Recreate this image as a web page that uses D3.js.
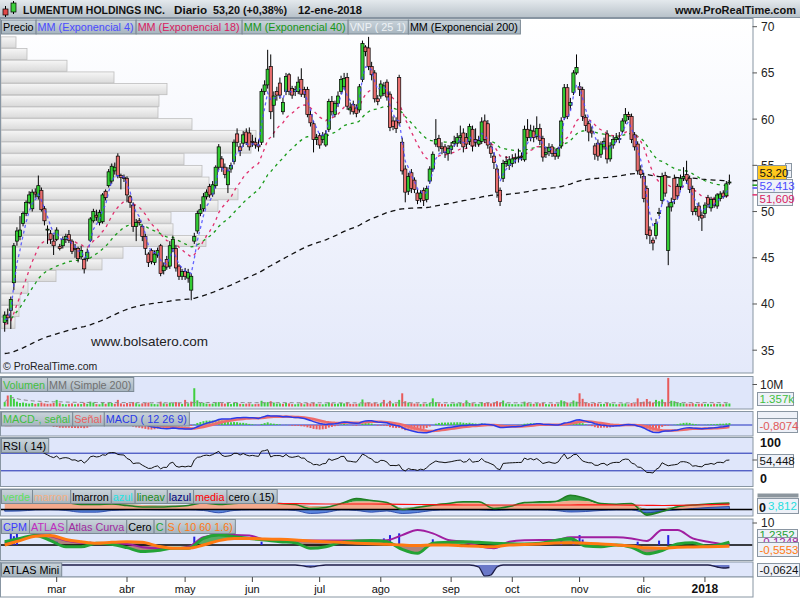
<!DOCTYPE html>
<html>
<head>
<meta charset="utf-8">
<script src="https://cdn.jsdelivr.net/npm/d3@7"></script>
<style>
body { margin: 0; background: #fff; }
svg { display: block; font-family: "Liberation Sans", Arial, sans-serif; }
</style>
</head>
<body>
<script>
// ---- data ----
const open = [
38.0,38.8,39.3,42.3,46.8,47.3,48.7,49.8,51.0,50.3,
52.1,51.6,52.3,50.3,48.0,47.6,46.8,47.0,46.2,46.3,
47.0,47.5,46.8,46.0,46.0,45.1,44.8,44.9,46.9,49.0,
49.6,48.8,48.9,52.2,52.8,53.3,54.4,56.0,53.9,53.7,
53.6,51.6,50.7,48.4,49.0,48.4,47.3,45.4,45.8,44.5,
45.3,46.3,43.6,44.8,44.1,46.0,46.0,44.1,43.0,43.5,
42.8,41.5,46.8,47.9,49.8,50.3,51.6,52.7,51.9,52.8,
54.8,55.7,54.8,52.9,54.6,55.4,58.4,57.0,57.4,58.6,
58.5,57.6,57.5,57.2,57.5,63.0,63.7,65.7,61.5,63.0,
63.9,60.8,63.0,64.8,63.3,63.0,63.0,64.3,63.2,63.2,
60.5,59.5,57.8,58.2,57.8,57.2,58.9,61.9,60.5,61.7,
63.0,63.5,64.5,61.0,61.6,61.2,61.0,64.3,67.8,67.7,
65.7,65.0,62.2,62.5,62.8,64.0,62.7,59.8,59.8,64.5,
57.5,54.6,52.2,54.2,53.4,52.0,51.4,52.3,51.3,53.3,
54.6,57.3,57.9,57.0,57.0,56.3,56.7,57.4,57.4,58.0,
58.5,58.0,57.6,58.9,57.8,57.3,57.6,59.8,59.5,57.0,
56.0,54.6,52.3,53.6,55.2,55.0,55.2,55.7,55.8,56.0,
55.6,58.9,58.0,58.7,58.1,59.0,57.9,56.2,56.5,57.0,
56.3,56.0,57.1,60.2,63.4,61.5,62.9,65.0,63.5,63.2,
60.2,59.5,58.7,57.1,57.4,56.2,57.0,58.4,55.7,57.2,
57.8,57.8,58.7,59.8,60.5,60.3,58.3,57.3,54.5,53.8,
52.5,48.0,46.9,47.4,49.8,51.2,53.9,45.8,50.5,53.6,
52.7,52.7,53.6,54.0,53.6,52.5,50.0,50.6,49.6,49.8,
51.5,50.4,51.3,50.6,51.4,52.0,51.7,53.1
];
const high = [
39.2,39.5,40.8,46.6,48.3,49.5,50.0,51.2,52.2,52.4,
52.5,53.9,52.6,50.6,48.5,48.0,47.5,48.3,46.5,47.3,
47.6,48.0,47.0,46.5,46.2,46.3,45.0,46.0,49.4,50.3,
50.2,50.2,52.0,52.4,54.6,55.2,55.3,56.3,54.1,54.0,
53.8,51.8,51.0,49.2,49.3,48.6,47.6,45.6,46.0,45.8,
46.1,46.5,44.5,45.2,46.8,47.4,46.4,44.3,43.8,43.9,
43.8,43.3,47.7,50.1,50.8,52.0,52.4,53.0,53.3,55.0,
57.3,56.0,55.2,54.8,55.3,57.8,59.0,57.4,58.7,59.0,
59.1,58.3,58.0,57.8,63.3,64.2,67.5,67.0,63.0,63.5,
64.5,62.3,65.0,65.0,63.6,63.6,64.6,65.5,63.5,63.5,
61.0,59.8,58.4,58.5,58.6,58.8,62.2,62.5,62.0,63.0,
64.7,65.0,65.0,61.8,62.0,61.6,63.8,68.5,68.0,68.9,
66.2,65.3,62.6,64.2,64.0,64.3,63.0,60.3,60.2,64.8,
58.0,55.0,54.2,54.6,53.7,52.4,52.3,52.6,52.8,54.9,
56.5,60.0,58.3,57.5,57.3,57.2,57.5,58.2,58.5,59.3,
59.0,58.5,59.5,59.3,59.0,58.2,60.2,60.5,59.9,57.5,
56.4,55.0,52.6,55.6,56.0,56.0,56.2,56.3,56.8,56.4,
59.3,60.0,59.4,59.3,60.3,59.5,58.2,57.0,57.4,57.3,
56.8,57.0,60.2,63.8,63.8,62.3,65.3,67.0,64.0,63.5,
60.5,59.8,59.2,57.4,57.8,57.6,58.0,58.8,57.5,58.2,
58.5,58.6,60.1,61.2,60.8,60.6,58.6,57.6,55.0,54.2,
52.8,48.4,47.2,49.2,50.4,54.2,54.3,51.0,51.5,54.0,
53.0,54.0,54.8,55.5,53.9,52.8,50.6,51.0,50.0,51.0,
51.8,51.6,51.6,52.0,52.2,52.3,53.3,54.0
];
const low = [
37.0,37.8,37.3,41.5,46.3,46.9,48.4,49.5,50.8,50.0,
51.5,51.3,50.0,48.5,46.5,46.5,45.3,46.8,45.8,46.0,
46.6,46.6,45.4,45.0,44.5,44.8,43.3,44.6,46.7,48.8,
49.0,48.5,48.7,51.2,52.6,53.0,54.0,53.6,52.4,53.2,
51.0,50.4,47.8,46.8,48.5,46.8,45.3,44.0,44.3,44.2,
45.0,43.0,43.2,43.7,43.8,45.6,43.5,42.6,42.6,42.6,
42.3,40.4,46.5,47.6,49.5,50.0,51.3,51.5,51.6,52.5,
54.5,54.3,53.6,52.0,54.2,55.1,57.0,56.0,57.0,57.2,
56.6,57.0,56.8,56.5,57.2,62.6,63.3,60.0,58.0,62.0,
62.2,60.5,62.6,62.6,62.2,62.5,62.7,62.4,62.3,60.2,
59.2,56.4,57.2,56.8,57.4,57.0,58.6,60.4,60.2,61.3,
62.7,63.2,61.0,60.5,60.5,60.2,60.7,64.0,66.8,65.3,
64.2,61.8,61.5,62.2,62.5,62.0,58.7,58.8,58.5,59.3,
54.0,51.0,51.8,52.0,52.0,50.8,51.0,50.6,51.0,53.0,
54.3,57.0,56.5,56.2,55.8,55.5,56.2,57.0,57.0,57.3,
56.4,56.8,57.2,56.5,57.0,57.0,57.3,57.4,56.8,55.8,
54.6,51.5,50.6,53.2,54.8,54.5,54.8,55.2,55.3,55.5,
55.4,57.6,57.6,57.5,57.8,57.2,55.4,55.8,56.0,55.9,
55.6,55.7,56.8,59.9,60.0,61.0,62.6,64.8,62.5,59.8,
58.7,57.6,58.0,55.6,55.5,55.8,56.7,55.2,55.4,56.8,
57.5,57.4,58.5,59.5,59.9,57.4,56.6,54.0,53.6,51.0,
47.0,46.5,45.8,47.0,49.5,50.8,51.6,44.2,50.0,50.8,
51.3,52.3,53.3,53.0,52.0,49.6,49.6,49.0,47.9,49.3,
50.4,50.0,50.4,50.3,51.1,51.4,51.5,52.9
];
const close = [
38.8,38.5,40.5,46.3,47.9,48.0,49.8,51.0,51.8,52.1,
51.9,52.8,50.2,49.0,48.1,47.0,46.3,48.0,46.0,47.0,
47.3,46.9,45.7,45.9,44.9,45.8,43.8,45.6,49.2,50.0,
49.4,49.9,51.8,51.5,54.3,54.9,54.8,53.9,53.7,53.6,
51.8,51.0,48.4,48.8,48.8,47.3,46.0,44.5,44.6,45.4,
45.8,43.3,44.1,44.0,46.3,47.0,43.9,43.0,43.5,43.0,
43.4,43.0,47.3,49.8,50.2,51.6,52.1,51.8,52.9,54.8,
57.0,54.8,54.0,54.4,55.0,57.5,57.5,56.6,58.3,57.5,
57.0,57.5,57.2,57.0,63.0,63.7,65.4,60.8,62.5,62.6,
62.6,61.8,64.6,63.0,62.6,63.2,64.0,62.7,62.7,60.5,
59.6,57.8,58.0,57.2,58.2,58.4,61.9,60.8,61.7,62.5,
64.3,64.4,61.4,61.2,60.8,60.6,63.5,68.2,67.3,65.7,
64.8,62.2,61.9,63.8,63.6,62.4,59.1,59.2,59.0,59.6,
54.4,52.1,53.8,52.5,52.4,51.2,52.0,51.2,52.5,54.6,
56.2,57.8,57.0,56.8,56.4,56.8,57.1,57.6,58.0,58.2,
57.0,57.3,59.2,57.1,57.5,57.7,59.7,57.8,57.2,56.3,
55.3,52.1,51.1,55.2,55.4,55.6,55.7,55.8,55.9,55.9,
58.9,58.0,58.8,58.0,59.0,57.7,55.9,56.4,56.9,56.3,
56.0,56.8,59.8,63.4,60.3,61.8,65.0,65.6,63.2,60.3,
59.3,58.6,58.5,56.2,56.0,57.3,57.6,55.7,57.1,57.8,
58.0,57.9,59.8,60.5,60.3,57.8,57.0,54.4,54.0,51.4,
47.5,47.4,46.6,48.7,49.9,53.8,52.0,50.5,51.0,51.3,
51.7,53.6,53.8,53.4,52.4,50.0,50.3,49.5,49.3,50.7,
50.8,51.3,50.7,51.8,51.9,51.6,53.0,53.2
];
// volume in millions
const volume = [
2.0,5.0,5.2,3.5,2.2,1.6,1.8,1.5,1.3,1.6,
1.2,1.5,1.8,1.4,1.2,1.3,1.6,3.0,1.5,1.1,
1.0,1.2,1.4,1.0,1.3,1.1,1.7,1.2,2.2,1.8,
1.1,1.0,1.9,1.2,1.8,1.6,1.2,3.0,1.4,1.0,
1.6,1.3,2.0,1.5,1.0,1.4,1.6,1.8,1.3,1.1,
1.0,2.2,1.4,1.2,1.8,1.5,2.0,1.6,1.2,3.0,
1.4,2.2,8.3,2.8,1.6,1.7,1.3,1.2,1.3,1.8,
2.0,1.5,1.3,1.6,1.1,1.8,1.6,1.2,1.1,1.3,
1.4,1.0,1.1,1.2,2.6,1.8,2.0,2.4,1.8,1.3,
1.4,1.2,1.6,1.4,1.1,1.0,1.3,1.5,1.0,1.6,
1.3,1.8,1.2,1.1,1.0,1.2,1.9,1.4,1.2,1.3,
1.6,1.4,1.9,1.2,1.1,1.2,1.4,3.2,1.8,1.9,
1.4,1.8,1.2,1.5,3.0,1.4,2.6,1.4,1.3,3.0,
6.0,2.4,1.8,1.5,1.3,1.4,1.1,1.3,1.2,1.7,
3.7,2.0,1.4,1.2,1.1,1.0,1.2,1.3,1.4,1.6,
1.5,2.8,1.6,1.5,1.2,1.1,2.0,1.6,1.8,1.4,
1.6,2.4,1.8,2.7,1.4,1.2,1.1,1.0,1.1,1.0,
2.2,1.6,1.3,1.2,1.5,1.4,1.7,1.1,1.0,1.2,
1.1,1.3,2.8,2.4,1.8,1.4,2.7,2.2,6.0,3.5,
1.8,1.5,1.2,1.6,1.3,1.1,1.2,1.6,1.4,1.2,
1.0,1.1,1.3,1.4,1.0,1.6,1.4,3.7,2.0,2.2,
3.4,2.3,1.8,3.0,2.4,3.2,2.0,13.0,2.6,2.4,
1.8,1.6,1.4,1.3,1.2,1.5,1.1,1.2,1.3,1.1,
1.2,1.0,1.3,1.1,1.2,1.0,1.4,1.357
];
// moving average values at the left edge of the picture
const emaSeed4 = 38.0, emaSeed18 = 37.7, emaSeed40 = 38.2, emaSeed200 = 34.6;

// volume-at-price (VNP 25) widths, top band first
const vnpWidths = [15,26,66,113,166,158,157,191,255,250,183,201,208,237,217,170,172,205,122,101,55,27,19,18,14];
const vnpTop = 68.9, vnpBottom = 37.3;

// sparse readings of the lower custom indicators
const gridIdx = [0,5,10,15,20,25,30,35,40,45,50,55,60,65,70,75,80,85,90,95,100,105,110,115,120,125,130,135,140,145,150,155,160,165,170,175,180,185,190,195,200,205,210,215,220,225,230,237];
const verde = [6.7,6.7,7,7.5,7,5,5,5.5,4,2.5,2.5,3,4,6.5,5,6,6.5,6.5,6,5,1,2,6,11,9,7,0,2,4.3,6,7.7,7.7,1,3,7,7.7,8,14.3,11,6,5.3,6,-5.7,-2,2.7,4.5,5.5,6.5];
const marron = [7.3,7.3,7.5,8,8,7,6.5,6,5,4.5,4,4,4.5,6,6.5,6.2,6,6,6,5,3.5,3.3,5,8,8,7.3,1.5,3,5,6.5,6.7,6.7,4,4,6,6,7,8.7,8.5,5.5,5.3,5,0.5,1,3,4,4.5,5];
const media = [7,7,7,7,7,6.8,6.8,6.6,6.5,6.3,6.2,6,6,6,6,6,6,6,6,5.8,5.6,5.5,5.5,5.5,5.5,5.4,5.2,5,4.8,4.6,4.5,4.5,4.5,4.5,4.5,4.5,4.5,4.5,4.6,4.6,4.5,4.3,4.2,4.0,4.2,4.5,4.8,5.3,6];
const azul = [-1.7,-1.5,-0.5,-0.3,-1,-2.7,-2.7,-1,-0.5,-0.3,-0.5,-0.5,-0.5,-1,-3.3,-1,-0.5,-0.5,-0.5,-1,-4,-3,-0.5,-1,-2.7,-1.5,-4,-3,-1,-0.5,-0.5,-0.5,-1,-0.5,-0.5,-0.5,-1,-2.5,-2,-1,-0.5,-0.5,-3.3,-1.5,-0.5,1,2,3];
const cLine = [1.5,3,4.3,2,-0.8,-0.8,0.8,0.3,-1.2,-3,-2.5,-1.5,-1.5,3,4.5,3.8,3,2.3,1.5,1,-1.5,-0.8,1.2,1.8,2,1.5,-2,-3.8,0.8,1.2,1.5,1.2,0.8,0.6,0.5,0.8,2,3,-0.5,-0.8,0,-1,-4,-2.5,0.5,1,-0.6,1.24];
const sLine = [0,2,4,4.3,2.5,1.5,0.8,1.2,1.5,1.2,-0.5,-1.5,-1.5,0,2,3,3,2.7,2.6,2.3,1.8,1.5,1.2,0.8,0.6,0.3,0,-0.2,0,0,-0.3,-0.6,-0.8,0,0.2,0.5,0.9,1,0.8,0.5,0,-0.5,-1.3,-1.5,-1,-0.9,-0.8,-0.56];
const atlas = [1,2.5,4.5,4,2,1,0.8,0.8,0.5,-1,-1.5,-1.5,-0.8,3.5,4.5,4.5,4.3,2.5,2,2,2,2,2,2,2,2.2,4.5,6.8,5.3,2.3,1.5,-0.5,-1.5,1.5,2.2,2.3,2.3,3.5,3.5,3.5,3.5,3,1.8,6.8,6.8,3,1.5,-0.12];
const cpmIdx = [2,3,4,17,28,37,62,84,124,126,129,140,182,186,188,189,207,214,217];
const cpmVal = [5.3,4,5.3,1.5,1.5,1.5,3.8,1.5,3,4.5,5.3,2.6,2.3,3,4.5,2.5,1.5,2,4.5];
const miniIdx = [0,95,98,100,102,105,152,155,157,159,161,163,230,233,235,237];
const miniVal = [0,0,-0.03,-0.05,-0.03,0,0,-0.05,-0.28,-0.25,-0.05,0,0,-0.05,-0.075,-0.0624];

const monthIdx = [17,40,59,81,103,123,146,166,188,209,229];
const monthLbl = ["mar","abr","may","jun","jul","ago","sep","oct","nov","dic","2018"];
const priceTicks = [35,40,45,50,55,60,65,70];

// ---- indicators computed from the closes ----
function ema(arr, n, seed) {
  const k = 2 / (n + 1);
  let e = seed;
  return arr.map(v => (e = v * k + e * (1 - k)));
}
const ema4 = ema(close, 4, emaSeed4);
const ema18 = ema(close, 18, emaSeed18);
const ema40 = ema(close, 40, emaSeed40);
const ema200 = ema(close, 200, emaSeed200);
const e12 = ema(close, 12, close[0]), e26 = ema(close, 26, close[0]);
const macd = e12.map((v, i) => v - e26[i]);
const signal = ema(macd, 9, 0);
const hist = macd.map((v, i) => v - signal[i]);
const changes = close.slice(1).map((v, i) => v - close[i]);
let avgG = d3.mean(changes.slice(0, 14), d => Math.max(d, 0));
let avgL = d3.mean(changes.slice(0, 14), d => Math.max(-d, 0));
const rsi = changes.map(d => {
  avgG = (avgG * 13 + Math.max(d, 0)) / 14;
  avgL = (avgL * 13 + Math.max(-d, 0)) / 14;
  return 100 - 100 / (1 + avgG / avgL);
});
const volAvg = volume.map((v, i) => d3.mean(volume.slice(Math.max(0, i - 199), i + 1)));

// ---- layout ----
const W = 800, H = 600, R = 752.5;
const svg = d3.select("body").append("svg").attr("width", W).attr("height", H);
const defs = svg.append("defs");
function grad(id, c1, c2) {
  const g = defs.append("linearGradient").attr("id", id)
    .attr("x1", 0).attr("y1", 0).attr("x2", 0).attr("y2", 1);
  g.append("stop").attr("offset", "0%").attr("stop-color", c1);
  g.append("stop").attr("offset", "100%").attr("stop-color", c2);
}
grad("gHead", "#e4e9ed", "#b6c0c8");
grad("gMain", "#ffffff", "#e4e9fa");
grad("gLeg", "#cad4db", "#a6b4be");
grad("gVnp", "#f6f6f6", "#dadada");

const panels = {
  main: [18.5, 373], vol: [376.5, 409], macd: [411.5, 436], rsi: [437.5, 486.5],
  verde: [489, 516], cpm: [519, 560.5], mini: [562, 577]
};
const G = {};
Object.entries(panels).forEach(([k, [t, b]]) => {
  defs.append("clipPath").attr("id", "c_" + k).append("rect")
    .attr("x", 1).attr("y", t).attr("width", R - 1).attr("height", b - t);
  svg.append("rect").attr("x", 0.5).attr("y", t).attr("width", R).attr("height", b - t)
    .attr("fill", k === "main" ? "url(#gMain)" : "#dfe6fa").attr("stroke", "#8896a3");
  G[k] = svg.append("g").attr("clip-path", "url(#c_" + k + ")");
});

const x = d3.scaleLinear().domain([0, 237]).range([4.7, 729.4]);
const y = d3.scaleLinear().domain([35, 70]).range([350.2, 26.7]);

// header
svg.append("rect").attr("x", 0).attr("y", 0).attr("width", W).attr("height", 18).attr("fill", "url(#gHead)");
svg.append("line").attr("x1", 0).attr("x2", W).attr("y1", 17.5).attr("y2", 17.5).attr("stroke", "#8793a0");
svg.append("line").attr("x1", 5.5).attr("x2", 5.5).attr("y1", 6).attr("y2", 17).attr("stroke", "#000");
svg.append("rect").attr("x", 3).attr("y", 9).attr("width", 5).attr("height", 6).attr("fill", "#e04848").attr("stroke", "#000").attr("stroke-width", 0.7);
svg.append("line").attr("x1", 13.5).attr("x2", 13.5).attr("y1", 1).attr("y2", 14).attr("stroke", "#000");
svg.append("rect").attr("x", 11).attr("y", 3).attr("width", 5).attr("height", 9).attr("fill", "#3ccf3c").attr("stroke", "#000").attr("stroke-width", 0.7);
const head = svg.append("g").attr("font-size", 11.5).attr("font-weight", "bold").attr("fill", "#111");
[["LUMENTUM HOLDINGS INC.", 23, 142], ["Diario", 174, 33], ["53,20 (+0,38%)", 213, 74], ["12-ene-2018", 298, 64]]
  .forEach(([t, xx, len]) => head.append("text").attr("x", xx).attr("y", 14)
    .attr("textLength", len).attr("lengthAdjust", "spacingAndGlyphs").text(t));
head.append("text").attr("x", 796).attr("y", 14).attr("text-anchor", "end").attr("font-size", 11).text("www.ProRealTime.com");

// ---- main price panel ----
const gM = G.main;
const vx = d3.scaleLinear().domain([0, 255]).range([1, 256]);
const vStep = (vnpTop - vnpBottom) / vnpWidths.length;
gM.selectAll(".vnp").data(vnpWidths).join("rect").attr("class", "vnp")
  .attr("x", 1)
  .attr("y", (d, i) => y(vnpTop - i * vStep))
  .attr("width", d => vx(d) - 1)
  .attr("height", (d, i) => y(vnpTop - (i + 1) * vStep) - y(vnpTop - i * vStep) - 0.6)
  .attr("fill", "url(#gVnp)").attr("stroke", "#bdbdbd").attr("stroke-width", 0.8);

const pl = d3.line().x((d, i) => x(i)).y(d => y(d));
[[ema200, "#111", "5,4"], [ema40, "#199a19", "3,4"], [ema18, "#e0306e", "3,4"]].forEach(([s, c, da]) =>
  gM.append("path").attr("d", pl(s)).attr("fill", "none").attr("stroke", c)
    .attr("stroke-width", 1.3).attr("stroke-dasharray", da));

const cg = gM.selectAll(".cdl").data(close).join("g").attr("class", "cdl");
cg.append("line")
  .attr("x1", (d, i) => x(i)).attr("x2", (d, i) => x(i))
  .attr("y1", (d, i) => y(high[i])).attr("y2", (d, i) => y(low[i]))
  .attr("stroke", "#000").attr("stroke-width", 1);
cg.append("rect")
  .attr("x", (d, i) => x(i) - 1.6).attr("width", 3.2)
  .attr("y", (d, i) => y(Math.max(open[i], d)))
  .attr("height", (d, i) => Math.max(1, Math.abs(y(open[i]) - y(d))))
  .attr("fill", (d, i) => d >= open[i] ? "#33cc33" : "#e86e6e")
  .attr("stroke", "#000").attr("stroke-width", 0.7);
gM.append("path").attr("d", pl(ema4)).attr("fill", "none").attr("stroke", "#4a4aff")
  .attr("stroke-width", 1.3).attr("stroke-dasharray", "3,3").attr("opacity", 0.85);

gM.append("text").attr("x", 91).attr("y", 346).attr("font-size", 13.5).attr("fill", "#222").text("www.bolsatero.com");
gM.append("text").attr("x", 3).attr("y", 370).attr("font-size", 10.5).attr("fill", "#222").text("© ProRealTime.com");

function legend(x0, y0, items) {
  let xx = x0;
  items.forEach(([t, c]) => {
    const r = svg.append("rect").attr("y", y0).attr("height", 14)
      .attr("fill", "url(#gLeg)").attr("stroke", "#7c8a95");
    const tx = svg.append("text").attr("x", xx + 2).attr("y", y0 + 11)
      .attr("font-size", 10.8).attr("fill", c).text(t);
    const w = tx.node().getComputedTextLength() + 4;
    r.attr("x", xx + 0.5).attr("width", w);
    xx += w;
  });
}
legend(1, 20, [["Precio", "#000"], ["MM (Exponencial 4)", "#4a4aff"], ["MM (Exponencial 18)", "#d81b60"],
  ["MM (Exponencial 40)", "#169616"], ["VNP ( 25 1)", "#eef2f6"], ["MM (Exponencial 200)", "#000"]]);

// ---- volume ----
const yv = d3.scaleLinear().domain([0, 10]).range([406.5, 384.5]);
G.vol.selectAll(".vb").data(volume).join("rect").attr("class", "vb")
  .attr("x", (d, i) => x(i) - 1).attr("width", 2)
  .attr("y", d => yv(d)).attr("height", d => yv(0) - yv(d))
  .attr("fill", (d, i) => (i === 0 ? close[i] >= open[i] : close[i] >= close[i - 1]) ? "#3fcf3f" : "#e85a5a");
G.vol.append("path").attr("d", d3.line().x((d, i) => x(i)).y(d => yv(d))(volAvg))
  .attr("fill", "none").attr("stroke", "#8a8a8a").attr("stroke-width", 1).attr("stroke-dasharray", "4,3");
legend(1, 377.5, [["Volumen", "#3fbf3f"], ["MM (Simple 200)", "#707070"]]);

// ---- MACD ----
const ym = d3.scaleLinear().domain([0, 1]).range([425, 422.2]);
G.macd.append("line").attr("x1", 0).attr("x2", R).attr("y1", ym(0)).attr("y2", ym(0)).attr("stroke", "#2030c0");
G.macd.selectAll(".hb").data(hist).join("rect").attr("class", "hb")
  .attr("x", (d, i) => x(i) - 1).attr("width", 2)
  .attr("y", d => Math.min(ym(0), ym(d * 1.5))).attr("height", d => Math.abs(ym(d * 1.5) - ym(0)))
  .attr("fill", d => d >= 0 ? "#3fcf3f" : "#ec5a5a");
G.macd.append("path")
  .attr("d", d3.area().x((d, i) => x(i)).y0(d => ym(d)).y1((d, i) => ym(signal[i]))(macd))
  .attr("fill", "#f08a80").attr("opacity", 0.7);
G.macd.append("path").attr("d", d3.line().x((d, i) => x(i)).y(d => ym(d))(signal))
  .attr("fill", "none").attr("stroke", "#ee6c6c").attr("stroke-width", 2.5);
G.macd.append("path").attr("d", d3.line().x((d, i) => x(i)).y(d => ym(d))(macd))
  .attr("fill", "none").attr("stroke", "#2a3ae8").attr("stroke-width", 1.5);
legend(1, 412, [["MACD-, señal", "#3fbf3f"], ["Señal", "#e86060"], ["MACD ( 12 26 9)", "#2a3ae8"]]);

// ---- RSI ----
const yr = d3.scaleLinear().domain([0, 100]).range([484, 440]);
[70, 30].forEach(v => G.rsi.append("line").attr("x1", 0).attr("x2", R)
  .attr("y1", yr(v)).attr("y2", yr(v)).attr("stroke", "#1a2ab0"));
G.rsi.append("path").attr("d", d3.line().x((d, i) => x(i + 1)).y(d => yr(d))(rsi))
  .attr("fill", "none").attr("stroke", "#111").attr("stroke-width", 1);
legend(1, 438.5, [["RSI ( 14)", "#000"]]);

// ---- verde / marron ----
const yV = d3.scaleLinear().domain([0, 10]).range([509.5, 499.5]);
const gx = (d, i) => x(gridIdx[i]);
const cv = d3.curveMonotoneX;
G.verde.append("path").attr("d", d3.area().curve(cv).x(gx).y0((d, i) => yV(marron[i])).y1(d => yV(d))(verde))
  .attr("fill", "#2f9a3c");
G.verde.append("path").attr("d", d3.area().curve(cv).x(gx).y0(yV(0)).y1(d => yV(Math.max(d, 0)))(marron))
  .attr("fill", "#f3a98c");
G.verde.append("path").attr("d", d3.area().curve(cv).x(gx).y0(yV(0)).y1(d => yV(d))(azul))
  .attr("fill", "#5a86e0").attr("stroke", "#1a3aa0").attr("stroke-width", 0.8);
G.verde.append("line").attr("x1", 0).attr("x2", R).attr("y1", yV(0)).attr("y2", yV(0)).attr("stroke", "#000").attr("stroke-width", 1.5);
G.verde.append("path").attr("d", d3.line().curve(cv).x(gx).y(d => yV(d))(verde))
  .attr("fill", "none").attr("stroke", "#1f7f24").attr("stroke-width", 1.5);
G.verde.append("path").attr("d", d3.line().curve(cv).x(gx).y(d => yV(d))(media))
  .attr("fill", "none").attr("stroke", "#ff1010").attr("stroke-width", 1.2);
legend(1, 489.5, [["verde", "#5fe05f"], ["marron", "#f5b083"], ["lmarron", "#000"], ["azul", "#22e5e5"],
  ["lineav", "#1a8a1a"], ["lazul", "#00007a"], ["media", "#ff0000"], ["cero ( 15)", "#000"]]);

// ---- CPM / ATLAS ----
const yC = d3.scaleLinear().domain([0, 10]).range([545, 523]);
G.cpm.append("path").attr("d", d3.area().curve(cv).x(gx).y0((d, i) => yC(sLine[i])).y1((d, i) => yC(Math.max(d, sLine[i])))(cLine))
  .attr("fill", "#3fa048").attr("opacity", 0.85);
G.cpm.append("path").attr("d", d3.area().curve(cv).x(gx).y0((d, i) => yC(sLine[i])).y1((d, i) => yC(Math.min(d, sLine[i])))(cLine))
  .attr("fill", "#a06a5e").attr("opacity", 0.8);
G.cpm.append("line").attr("x1", 0).attr("x2", R).attr("y1", yC(0)).attr("y2", yC(0)).attr("stroke", "#000").attr("stroke-width", 1.6);
G.cpm.selectAll(".cb").data(cpmVal).join("rect").attr("class", "cb")
  .attr("x", (d, i) => x(cpmIdx[i]) - 1).attr("width", 2)
  .attr("y", d => yC(d)).attr("height", d => yC(0) - yC(d)).attr("fill", "#2222e0");
G.cpm.append("path").attr("d", d3.line().curve(cv).x(gx).y(d => yC(d))(atlas))
  .attr("fill", "none").attr("stroke", "#a01ea0").attr("stroke-width", 2);
G.cpm.append("path").attr("d", d3.line().curve(cv).x(gx).y(d => yC(d))(cLine))
  .attr("fill", "none").attr("stroke", "#23a335").attr("stroke-width", 3);
G.cpm.append("path").attr("d", d3.line().curve(cv).x(gx).y(d => yC(d))(sLine))
  .attr("fill", "none").attr("stroke", "#ff7a12").attr("stroke-width", 3);
legend(1, 519.5, [["CPM", "#3a3aff"], ["ATLAS", "#c02cc0"], ["Atlas Curva", "#a02aa0"], ["Cero", "#000"],
  ["C", "#23a335"], ["S ( 10 60 1.6)", "#ff7a12"]]);

// ---- ATLAS Mini ----
const yMi = d3.scaleLinear().domain([-0.3, 0]).range([577, 565]);
const mx = (d, i) => x(miniIdx[i]);
G.mini.append("path").attr("d", d3.area().curve(cv).x(mx).y0(yMi(0)).y1(d => yMi(d))(miniVal)).attr("fill", "#6a78c8");
G.mini.append("path").attr("d", d3.line().curve(cv).x(mx).y(d => yMi(d))(miniVal))
  .attr("fill", "none").attr("stroke", "#1e1e48").attr("stroke-width", 1.3);
svg.append("line").attr("x1", 1).attr("x2", x(0)).attr("y1", yMi(0)).attr("y2", yMi(0)).attr("stroke", "#1e1e48");
legend(1, 563, [["ATLAS Mini", "#000"]]);

// ---- time axis ----
svg.append("rect").attr("x", 0.5).attr("y", 577).attr("width", R).attr("height", 20).attr("fill", "#fff").attr("stroke", "#8896a3");
monthIdx.forEach((m, k) => {
  svg.append("line").attr("x1", x(m)).attr("x2", x(m)).attr("y1", 577).attr("y2", 582).attr("stroke", "#444");
  svg.append("text").attr("x", x(m)).attr("y", 593).attr("text-anchor", "middle")
    .attr("font-size", k === 10 ? 12 : 11).attr("font-weight", k === 10 ? "bold" : "normal")
    .attr("fill", "#111").text(monthLbl[k]);
});

// ---- right axis ----
const ax = svg.append("g").attr("fill", "#222");
priceTicks.forEach(t => {
  ax.append("line").attr("x1", R).attr("x2", 757).attr("y1", y(t)).attr("y2", y(t)).attr("stroke", "#555");
  ax.append("text").attr("x", 761).attr("y", y(t) + 4.5).attr("font-size", 12).text(t);
});
function tag(x0, y0, w, h, t, c, fill, bold) {
  svg.append("rect").attr("x", x0 + 0.5).attr("y", y0 + 0.5).attr("width", w).attr("height", h)
    .attr("fill", fill).attr("stroke", "#8a96a2");
  svg.append("text").attr("x", x0 + 2.5).attr("y", y0 + h - 2.5).attr("font-size", 11.5)
    .attr("font-weight", bold ? "bold" : "normal").attr("fill", c).text(t);
}
[[ema200[237], "#111"], [ema40[237], "#199a19"], [ema4[237], "#4a4aff"], [ema18[237], "#e0306e"]].forEach(([v, c]) =>
  svg.append("line").attr("x1", R).attr("x2", 757).attr("y1", y(v)).attr("y2", y(v)).attr("stroke", c).attr("stroke-width", 1.5));
svg.append("rect").attr("x", 785.5).attr("y", 163.5).attr("width", 6).attr("height", 7).attr("fill", "#eef1f8").attr("stroke", "#8a96a2");
svg.append("rect").attr("x", 785.5).attr("y", 170.5).attr("width", 6).attr("height", 7).attr("fill", "#eef1f8").attr("stroke", "#8a96a2");
tag(757, 165, 29, 14, "53,20", "#111", "#ffc81e");
tag(757, 179, 35, 13, "52,413", "#4a4aff", "#eef1f8");
tag(757, 192, 35, 13, "51,609", "#d81b60", "#eef1f8");

svg.append("line").attr("x1", R).attr("x2", 757).attr("y1", yv(10)).attr("y2", yv(10)).attr("stroke", "#555");
svg.append("text").attr("x", 760).attr("y", 388.5).attr("font-size", 12).attr("fill", "#222").text("10M");
tag(757, 392, 36, 13, "1.357k", "#3fbf3f", "#eef1f8");

tag(757, 411, 40, 9, "", "#3fbf3f", "#eef1f8");
tag(757, 418, 40, 14, "-0,8074", "#e05a5a", "#eef1f8");

svg.append("text").attr("x", 760).attr("y", 447).attr("font-size", 12.5).attr("font-weight", "bold").attr("fill", "#111").text("100");
svg.append("line").attr("x1", R).attr("x2", 757).attr("y1", yr(rsi[236])).attr("y2", yr(rsi[236])).attr("stroke", "#555");
tag(757, 454, 36, 13, "54,448", "#111", "#eef1f8");
svg.append("text").attr("x", 760).attr("y", 483).attr("font-size", 12.5).attr("font-weight", "bold").attr("fill", "#111").text("0");

svg.append("rect").attr("x", 757.5).attr("y", 493.5).attr("width", 41).attr("height", 4).attr("fill", "#8c969e");
tag(757, 498, 41, 15, "", "#000", "#eef1f8");
svg.append("text").attr("x", 768).attr("y", 509.5).attr("font-size", 11.5).attr("fill", "#25dede").text("3,812");
svg.append("text").attr("x", 759).attr("y", 512).attr("font-size", 12.5).attr("font-weight", "bold").attr("fill", "#111").text("0");

svg.append("line").attr("x1", R).attr("x2", 757).attr("y1", yC(10)).attr("y2", yC(10)).attr("stroke", "#555");
svg.append("text").attr("x", 761).attr("y", 527).attr("font-size", 12).attr("fill", "#222").text("10");
tag(757, 529, 40, 12, "1,2352", "#23a335", "#eef1f8");
tag(757, 537, 40, 11, "-0,1248", "#a01ea0", "#eef1f8");
tag(757, 542, 41, 14, "-0,5553", "#ff7a12", "#eef1f8");

tag(757, 563, 42, 13, "-0,0624", "#111", "#eef1f8");
</script>
</body>
</html>
